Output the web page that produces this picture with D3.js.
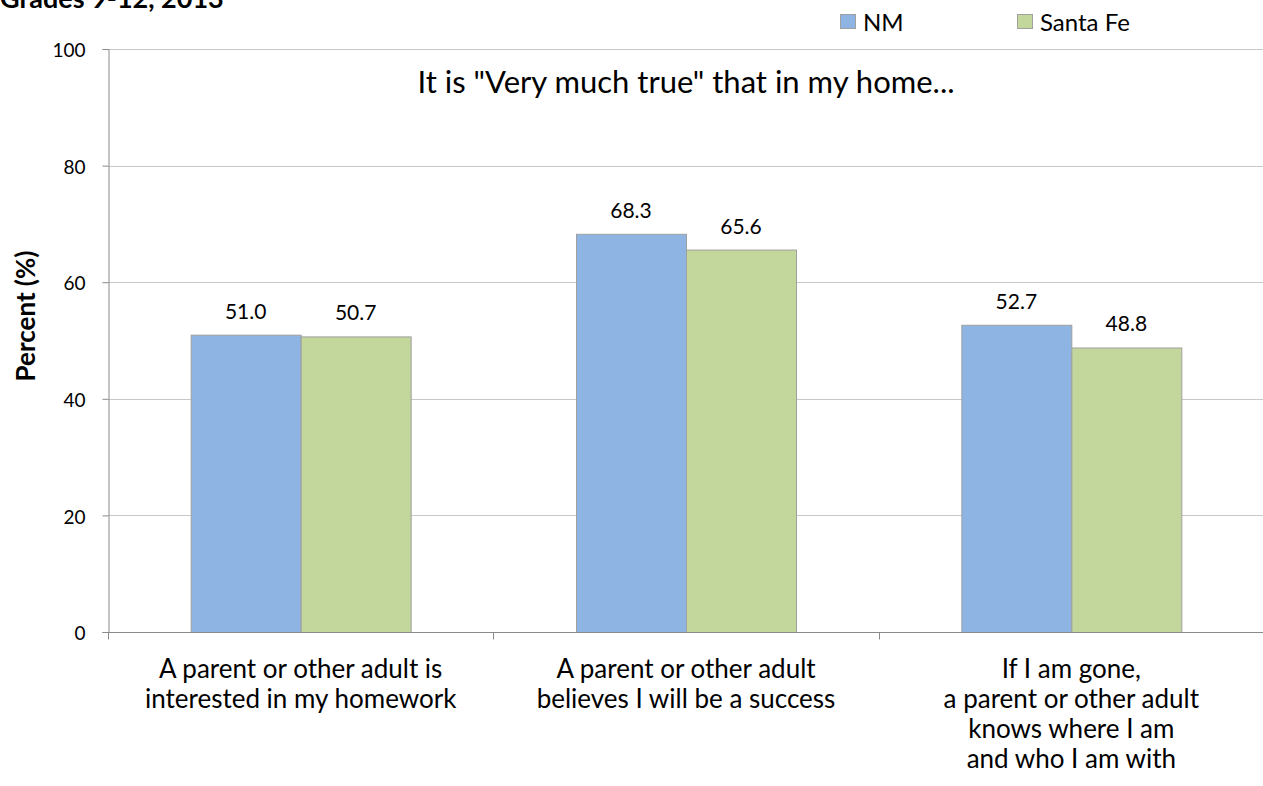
<!DOCTYPE html>
<html><head><meta charset="utf-8">
<script src="https://cdn.jsdelivr.net/npm/d3@7"></script>
<style>body{margin:0;background:#fff}svg{display:block;font-family:Lato,"Open Sans",sans-serif}</style>
</head><body>
<svg id="c" width="1263" height="786"></svg>
<script>
const categories = [
  ["A parent or other adult is", "interested in my homework"],
  ["A parent or other adult", "believes I will be a success"],
  ["If I am gone,", "a parent or other adult", "knows where I am", "and who I am with"]
];
const seriesNames = ["NM", "Santa Fe"];
const nmValues = [51.0, 68.3, 52.7];
const santaFeValues = [50.7, 65.6, 48.8];
const yTicks = [0, 20, 40, 60, 80, 100];
const colors = ["#8EB4E3", "#C3D69B"];

(function () {
const svg = d3.select("#c");
const mLeft = 108, mRight = 1264, mTop = 49, mBottom = 632;
const x = d3.scaleBand().domain(d3.range(categories.length)).range([mLeft, mRight]).paddingInner(0).paddingOuter(0);
const y = d3.scaleLinear().domain([0, 100]).range([mBottom, mTop]);
const inner = d3.scaleBand().domain(d3.range(2)).range([0, 220]);
const groupOffset = (x.bandwidth() - 220) / 2;

// gridlines
svg.append("g").selectAll("line").data(yTicks.filter(d => d > 0)).join("line")
  .attr("x1", mLeft).attr("x2", mRight).attr("y1", d => Math.round(y(d)) + 0.5).attr("y2", d => Math.round(y(d)) + 0.5)
  .attr("stroke", "#c8c8c8").attr("stroke-width", 1);

// y axis
const yAxis = svg.append("g").attr("transform", `translate(${mLeft + 0.5},0)`)
  .call(d3.axisLeft(y).tickValues(yTicks).tickSize(6).tickPadding(17));
yAxis.select(".domain").attr("stroke", "#8a8a8a");
yAxis.selectAll(".tick line").attr("stroke", "#8a8a8a");
yAxis.selectAll("text").attr("font-size", 19).attr("dy", "0.4em").attr("fill", "#000").attr("font-family", "Lato, 'Open Sans', sans-serif");

// bars
const data = [nmValues, santaFeValues];
const groups = svg.append("g").selectAll("g").data(d3.range(categories.length)).join("g")
  .attr("transform", i => `translate(${x(i) + groupOffset},0)`);
groups.selectAll("rect").data(i => data.map((s, k) => ({k, v: s[i]}))).join("rect")
  .attr("x", d => inner(d.k) + 0.5).attr("width", inner.bandwidth())
  .attr("y", d => y(d.v) + 0.5).attr("height", d => mBottom - y(d.v))
  .attr("fill", d => colors[d.k]).attr("stroke", "#a0a0a0").attr("stroke-width", 1);
groups.selectAll("text").data(i => data.map((s, k) => ({k, v: s[i]}))).join("text")
  .attr("x", d => inner(d.k) + inner.bandwidth() / 2).attr("y", d => y(d.v) - 16)
  .attr("text-anchor", "middle").attr("font-size", 21).attr("fill", "#000")
  .text(d => d.v.toFixed(1));

// x axis
const xAxis = svg.append("g").attr("transform", `translate(0,${mBottom + 0.5})`);
xAxis.append("line").attr("x1", mLeft).attr("x2", mRight).attr("stroke", "#8a8a8a");
xAxis.selectAll("line.t").data([0, 1, 2, 3]).join("line").attr("class", "t")
  .attr("x1", i => Math.round(mLeft + i * x.bandwidth()) + 0.5).attr("x2", i => Math.round(mLeft + i * x.bandwidth()) + 0.5)
  .attr("y1", 0).attr("y2", 7).attr("stroke", "#8a8a8a");
const labels = svg.append("g").selectAll("text").data(categories).join("text")
  .attr("text-anchor", "middle").attr("font-size", 26).attr("fill", "#000")
  .attr("x", (d, i) => x(i) + x.bandwidth() / 2);
labels.selectAll("tspan").data(d => d).join("tspan")
  .attr("x", function () { return this.parentNode.getAttribute("x"); })
  .attr("y", (d, j) => 678 + j * 30).text(d => d);

// inner title
svg.append("text").attr("x", 686).attr("y", 93).attr("text-anchor", "middle")
  .attr("font-size", 31).attr("fill", "#000").text('It is "Very much true" that in my home...');

// y axis title
svg.append("text").attr("transform", "translate(35,316) rotate(-90)").attr("text-anchor", "middle")
  .attr("font-size", 26).attr("font-weight", "bold").attr("fill", "#000").text("Percent (%)");

// chart title (cut off at the top, as in the reference)
svg.append("text").attr("x", 0).attr("y", 8).attr("font-size", 27).attr("font-weight", "bold")
  .attr("fill", "#000").text("Grades 9-12, 2013");

// legend
const legX = [840, 1017];
const leg = svg.append("g").selectAll("g").data(seriesNames).join("g")
  .attr("transform", (d, i) => `translate(${legX[i]},14)`);
leg.append("rect").attr("x", 0.5).attr("y", 0.5).attr("width", 15).attr("height", 14)
  .attr("fill", (d, i) => colors[i]).attr("stroke", "#a0a0a0");
leg.append("text").attr("x", 23).attr("y", 17).attr("font-size", 24).attr("fill", "#000").text(d => d);
})();
</script>
</body></html>
